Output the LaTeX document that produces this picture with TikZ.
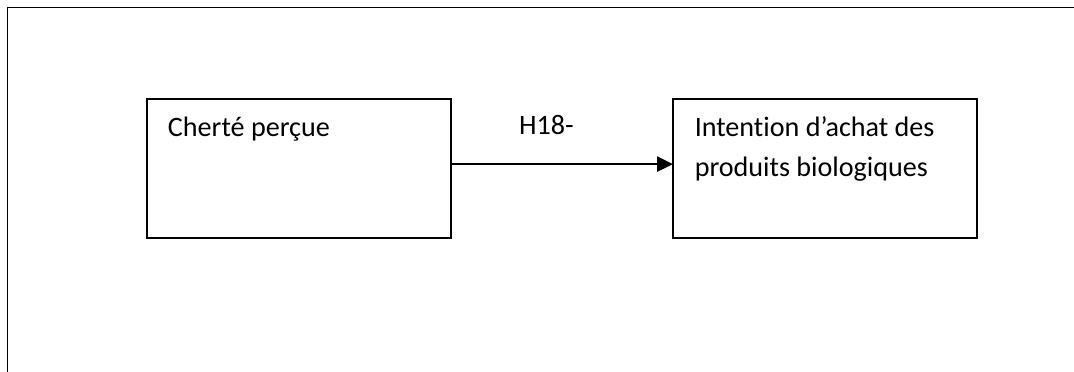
\documentclass[tikz,border=0pt]{standalone}
\usepackage{fontspec}
\setmainfont{Carlito}[Ligatures={TeX,NoCommon}]
\usepackage{tikz}
\usetikzlibrary{arrows.meta}
\tikzset{box/.style={draw,anchor=north west,outer sep=0pt,inner sep=0pt,minimum width=7.6cm,minimum height=3.475cm}}
\tikzset{txt/.style={anchor=base west,inner sep=0pt,align=left,font=\fontsize{20}{28.45}\selectfont}}
\tikzset{l/.style={inner sep=0pt,font=\fontsize{20}{28.45}\selectfont}}

\begin{document}
\begin{tikzpicture}[x=0.025cm,y=-0.025cm,line width=1.35pt]
          \useasboundingbox (0,0) rectangle (1074,372);
          \draw (1074,7.5)--(7.5,7.5)--(7.5,372);
          \node[box] (CP) at (147,99) {};
          \node[box] (IA) at (673,99) {};
          \node[txt,xshift=0.5cm,yshift=-0.925cm] (CPtext) at (CP.north west) {Cherté perçue};
          % base of a two-line node is its last line
          \node[txt,xshift=0.52cm,yshift=-1.925cm] (IAtext) at (IA.north west) {Intention d’achat des\\produits biologiques};
          \draw[-{Triangle[length=0.4cm,width=0.38cm]}] ([yshift=0.11cm]CP.east)
            -- node[l,pos=0.43,above=0.7cm] (H) {H18-} ([yshift=0.11cm]IA.west);
        \end{tikzpicture}
\end{document}
